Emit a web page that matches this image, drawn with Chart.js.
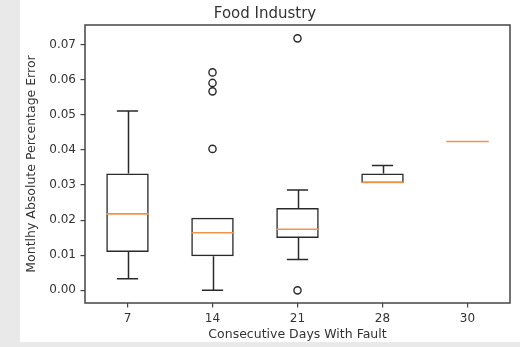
<!DOCTYPE html>
<html>
<head>
<meta charset="utf-8">
<script src="https://cdn.jsdelivr.net/npm/chart.js@4.4.0/dist/chart.umd.min.js"></script>
<style>
    html, body { margin: 0; padding: 0; background: #e9e9e9; }
    #wrap { position: absolute; left: 20px; top: 0; width: 500px; height: 342px; background: #ffffff; }
</style>
</head>
<body>
<div id="wrap"><canvas id="boxChart" width="500" height="342"></canvas></div>
<script>
// box plot stats
const categories = ['7', '14', '21', '28', '30'];
const q1 = [0.0109, 0.0097, 0.0149, 0.0305, 0.0424];
const q3 = [0.0333, 0.0207, 0.0235, 0.0333, 0.0424];
const medians = [0.0218, 0.0164, 0.0174, 0.0308, 0.0424];
const whiskerLow = [0.0033, 0.0000, 0.0088, 0.0305, 0.0424];
const whiskerHigh = [0.0511, 0.0207, 0.0286, 0.0356, 0.0424];
const outliers14 = [0.0621, 0.0591, 0.0567, 0.0403];
const outliers21 = [0.0718, 0.0000];
const yTicks = [0.00, 0.01, 0.02, 0.03, 0.04, 0.05, 0.06, 0.07];

const fliers = [];
outliers14.forEach(v => fliers.push({ x: '14', y: v }));
outliers21.forEach(v => fliers.push({ x: '21', y: v }));

// whiskers, caps, medians and the axes frame
const boxExtras = {
    id: 'boxExtras',
    afterDatasetsDraw(chart) {
        const ctx = chart.ctx;
        const x = chart.scales.x;
        const y = chart.scales.y;
        ctx.save();
        ctx.lineWidth = 1.5;
        ctx.strokeStyle = '#2a2a2a';
        categories.forEach((c, i) => {
            const cx = Math.round(x.getPixelForValue(i)) + 0.5;
            const capL = x.getPixelForValue(i - 0.125);
            const capR = x.getPixelForValue(i + 0.125);
            ctx.beginPath();
            if (whiskerHigh[i] > q3[i]) {
                ctx.moveTo(cx, y.getPixelForValue(q3[i]));
                ctx.lineTo(cx, y.getPixelForValue(whiskerHigh[i]));
                ctx.moveTo(capL, y.getPixelForValue(whiskerHigh[i]));
                ctx.lineTo(capR, y.getPixelForValue(whiskerHigh[i]));
            }
            if (whiskerLow[i] < q1[i]) {
                ctx.moveTo(cx, y.getPixelForValue(q1[i]));
                ctx.lineTo(cx, y.getPixelForValue(whiskerLow[i]));
                ctx.moveTo(capL, y.getPixelForValue(whiskerLow[i]));
                ctx.lineTo(capR, y.getPixelForValue(whiskerLow[i]));
            }
            ctx.stroke();
        });
        ctx.strokeStyle = '#f5924a';
        ctx.lineWidth = 1.6;
        categories.forEach((c, i) => {
            const my = y.getPixelForValue(medians[i]);
            ctx.beginPath();
            ctx.moveTo(x.getPixelForValue(i - 0.25), my);
            ctx.lineTo(x.getPixelForValue(i + 0.25), my);
            ctx.stroke();
        });
        const a = chart.chartArea;
        ctx.strokeStyle = '#444';
        ctx.lineWidth = 1.5;
        ctx.strokeRect(a.left, a.top, a.right - a.left, a.bottom - a.top);
        ctx.restore();
    }
};

const ctx = document.getElementById('boxChart').getContext('2d');
new Chart(ctx, {
    type: 'bar',
    data: {
        labels: categories,
        datasets: [
            {
                label: 'box',
                data: categories.map((c, i) => [q1[i], q3[i]]),
                backgroundColor: 'rgba(255,255,255,0)',
                borderColor: '#2a2a2a',
                // a box with no spread is just its median line
                borderWidth: categories.map((c, i) => (q3[i] > q1[i] ? 1.5 : 0)),
                borderSkipped: false,
                categoryPercentage: 1.0,
                barPercentage: 0.5,
            },
            {
                type: 'line',
                label: 'fliers',
                data: fliers,
                showLine: false,
                pointRadius: 3.6,
                pointBorderWidth: 1.4,
                pointBackgroundColor: 'rgba(255,255,255,0)',
                pointBorderColor: '#2a2a2a',
            },
        ],
    },
    options: {
        responsive: false,
        animation: false,
        layout: { padding: { left: 0, right: 10, top: 0, bottom: 0 } },
        plugins: {
            legend: { display: false },
            tooltip: { enabled: false },
            title: {
                display: true,
                text: 'Food Industry',
                color: '#333',
                font: { family: 'DejaVu Sans', size: 15, weight: 'normal' },
                padding: { top: 5, bottom: 2 },
            },
        },
        scales: {
            x: {
                offset: true,
                border: { display: false },
                grid: { display: true, drawOnChartArea: false, offset: false, tickLength: 4.5, color: '#444', lineWidth: 1.2 },
                ticks: { color: '#333', padding: 4, font: { family: 'DejaVu Sans', size: 12 } },
                title: {
                    display: true,
                    text: 'Consecutive Days With Fault',
                    color: '#333',
                    font: { family: 'DejaVu Sans', size: 12.5 },
                    padding: { top: 0, bottom: 0 },
                },
                afterFit: (scale) => { scale.height = 39; },
            },
            y: {
                min: -0.0036,
                max: 0.0756,
                border: { display: false },
                grid: { display: true, drawOnChartArea: false, tickLength: 4.5, color: '#444', lineWidth: 1.2 },
                afterBuildTicks: (scale) => { scale.ticks = yTicks.map(v => ({ value: v })); },
                ticks: {
                    color: '#333',
                    padding: 4.5,
                    font: { family: 'DejaVu Sans', size: 12 },
                    callback: (v) => Number(v).toFixed(2),
                },
                title: {
                    display: true,
                    text: 'Montlhy Absolute Percentage Error',
                    color: '#333',
                    font: { family: 'DejaVu Sans', size: 12.5 },
                    padding: { top: 4, bottom: 0 },
                },
                afterFit: (scale) => { scale.width = 65; },
            },
        },
    },
    plugins: [boxExtras],
});
</script>
</body>
</html>
